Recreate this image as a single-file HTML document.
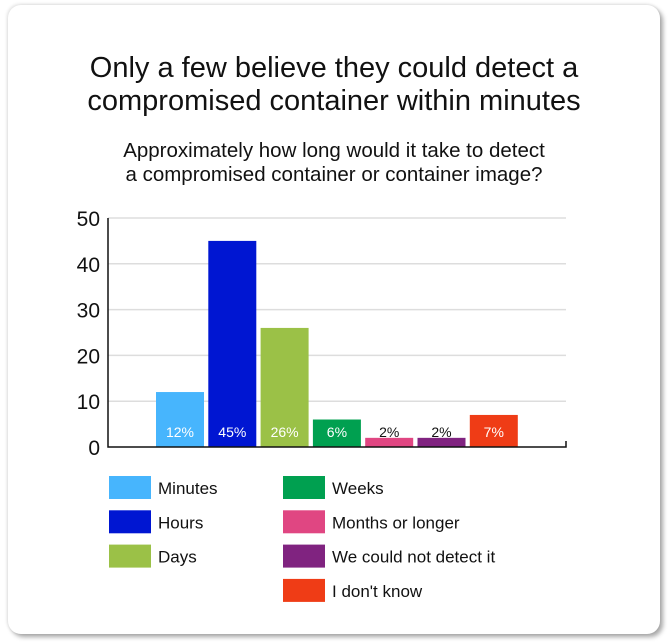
<!DOCTYPE html>
<html><head><meta charset="utf-8"><style>
body{margin:0;width:668px;height:643px;background:#fff;font-family:"Liberation Sans",sans-serif;overflow:hidden}
#card{position:absolute;left:8px;top:5px;width:652px;height:629px;background:#fff;border-radius:13px;box-shadow:3px 3px 5px rgba(0,0,0,0.35),-1px -1px 3px rgba(0,0,0,0.12)}
.t{position:absolute;left:0;width:668px;text-align:center;color:#111}
</style></head><body>
<div id="card"></div>
<div class="t" style="top:52px;font-size:29px;line-height:33px">Only a few believe they could detect a<br>compromised container within minutes</div>
<div class="t" style="top:139px;font-size:20.5px;line-height:24px">Approximately how long would it take to detect<br>a compromised container or container image?</div>
<svg id="chart" width="668" height="643" style="position:absolute;left:0;top:0"></svg>
<script>
const categories=["Minutes","Hours","Days","Weeks","Months or longer","We could not detect it","I don't know"];
const values=[12,45,26,6,2,2,7];
const colors=["#47b5fd","#0016d2","#9bc147","#00a050","#e04682","#802380","#ef3c16"];
const ticks=[0,10,20,30,40,50];
const svg=document.getElementById('chart');const NS='http://www.w3.org/2000/svg';
function mk(t,a,txt){const e=document.createElementNS(NS,t);for(const k in a)e.setAttribute(k,a[k]);if(txt!=null)e.textContent=txt;svg.appendChild(e);return e;}
const x0=108,x1=566,yb=447,yt=218;
const y=v=>yb-(v/50)*(yb-yt);
const bx=i=>156+i*52.3;
ticks.forEach(v=>{
 if(v>0){const g=mk('line',{x1:x0,x2:x1,y1:y(v),y2:y(v),stroke:'#ddd','stroke-width':1.5});
 
 }
 const t=mk('text',{x:100,y:y(v)+8,'text-anchor':'end','font-size':21,fill:'#111','font-family':'Liberation Sans'},v);
 
 
});
values.forEach((v,i)=>{
 const r=mk('rect',{x:bx(i),y:y(v),width:48,height:yb-y(v),fill:colors[i]});
 
 
 const light=v>=5;
 const t=mk('text',{x:bx(i)+24,y:437,'text-anchor':'middle','font-size':14,fill:light?'#fff':'#111'},v+'%');
 
 
});
const ya=mk('path',{d:`M${x0},${yt} V${yb} H${x1} V${yb-6}`,fill:'none',stroke:'#111','stroke-width':1.5});


categories.forEach((c,i)=>{
 const col=i<3?0:1,row=i<3?i:i-3;
 const lx=col?283:109,ly=476+row*34.3;
 const r=mk('rect',{x:lx,y:ly,width:42,height:23,fill:colors[i]});
 
 
 const t=mk('text',{x:lx+49,y:ly+18,'font-size':17,fill:'#111'},c);
 
 
});
</script>
</body></html>
